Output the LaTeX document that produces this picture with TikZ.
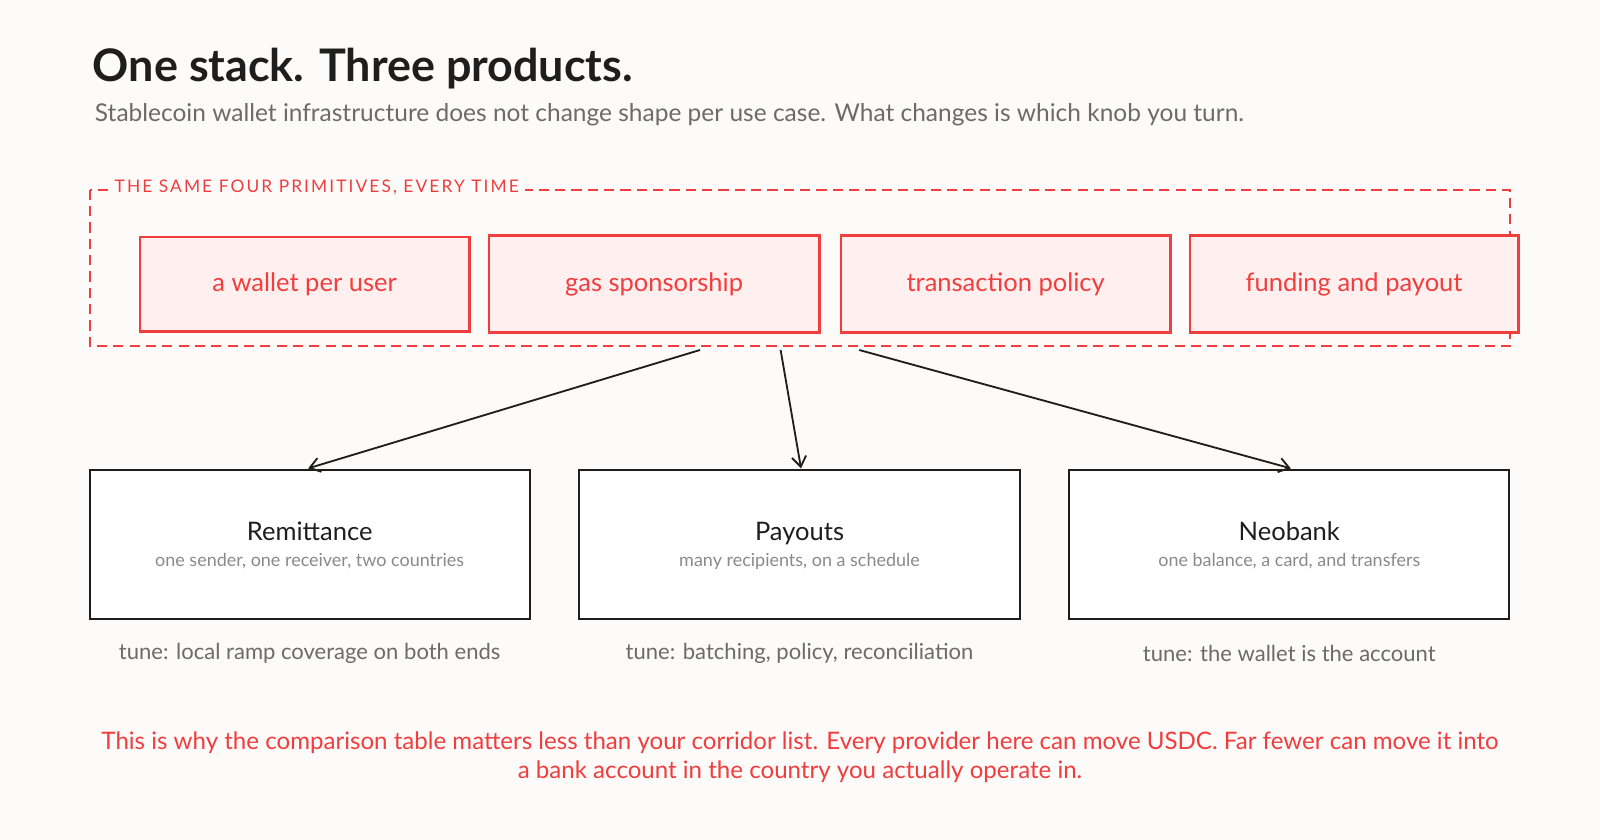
\documentclass[tikz,border=0pt]{standalone}
\usepackage{fontspec}
\setmainfont{Lato}
\usetikzlibrary{arrows.meta}
\definecolor{bg}{HTML}{FCFBFA}
\definecolor{red}{HTML}{F03E3E}
\definecolor{pink}{HTML}{FFF0EF}
\definecolor{ink}{HTML}{1E1E1E}
\definecolor{gr}{HTML}{6B6B6B}
\definecolor{lg}{HTML}{8A8A8A}
\begin{document}
\begin{tikzpicture}[x=0.5pt,y=-0.5pt,
 prim/.style={draw=red,fill=pink,line width=1.2pt,text=red,font=\fontsize{12.5}{14}\selectfont},
 prod/.style={draw=ink,fill=white,line width=1pt},
 arr/.style={draw=ink,line width=0.9pt,-{Straight Barb[length=5pt,width=7pt]}},
 tune/.style={text=gr,font=\fontsize{10.8}{12}\selectfont},
 ttl/.style={text=ink,font=\fontsize{12.5}{14}\selectfont,text depth=0pt,text height=9pt},
 sub/.style={text=lg,font=\fontsize{8.8}{10}\selectfont}]
\fill[bg] (0,0) rectangle (1568,823);
\useasboundingbox (0,0) rectangle (1568,823);
\node[anchor=west,text=ink,font=\fontsize{22}{25}\selectfont\bfseries] (title) at (84,67) {One stack. Three products.};
\node[anchor=west,text=gr,font=\fontsize{12}{14}\selectfont] (subt) at (86,112) {Stablecoin wallet infrastructure does not change shape per use case. What changes is which knob you turn.};
\draw[red,dashed,line width=0.8pt,dash pattern=on 5pt off 3pt] (88,186) rectangle (1480,339);
\node[anchor=west,fill=bg,text=red,inner sep=3pt,font=\fontsize{8.5}{9}\selectfont] (lab) at (106,184) {\addfontfeature{LetterSpace=12}THE SAME FOUR PRIMITIVES, EVERY TIME};
\node[prim,minimum width=161.5pt,minimum height=46.5pt] (p1) at (298.5,278.5) {a wallet per user};
\node[prim,minimum width=162pt,minimum height=47.5pt] (p2) at (641,278.5) {gas sponsorship};
\node[prim,minimum width=161.5pt,minimum height=47.5pt] (p3) at (985.5,278.5) {transaction policy};
\node[prim,minimum width=161pt,minimum height=47.5pt] (p4) at (1327,278.5) {funding and payout};
\node[prod,minimum width=215.5pt,minimum height=73pt] (b1) at (303.5,534) {};
\node[prod,minimum width=216.5pt,minimum height=73pt] (b2) at (783.5,534) {};
\node[prod,minimum width=215.5pt,minimum height=73pt] (b3) at (1263.5,534) {};
\node[ttl] (t1) at (303.5,521) {Remittance};
\node[sub] (s1) at (303.5,550) {one sender, one receiver, two countries};
\node[ttl] (t2) at (783.5,521) {Payouts};
\node[sub] (s2) at (783.5,550) {many recipients, on a schedule};
\node[ttl] (t3) at (1263.5,521) {Neobank};
\node[sub] (s3) at (1263.5,550) {one balance, a card, and transfers};
\node[tune] (u1) at (303.5,640) {tune: local ramp coverage on both ends};
\node[tune] (u2) at (783.5,640) {tune: batching, policy, reconciliation};
\node[tune] (u3) at (1263.5,640) {tune: the wallet is the account};
\coordinate (o1) at (686,343);
\coordinate (o2) at (765,343);
\coordinate (o3) at (842,343);
\coordinate (e1) at (302,459);
\coordinate (e2) at (785,459);
\coordinate (e3) at (1265,459);
\draw[arr] (o1) -- (e1);
\draw[arr] (o2) -- (e2);
\draw[arr] (o3) -- (e3);
\node[text=red,align=center,font=\fontsize{11.8}{14.5}\selectfont] (foot) at (784,742) {This is why the comparison table matters less than your corridor list. Every provider here can move USDC. Far fewer can move it into\\a bank account in the country you actually operate in.};
\end{tikzpicture}
\end{document}
